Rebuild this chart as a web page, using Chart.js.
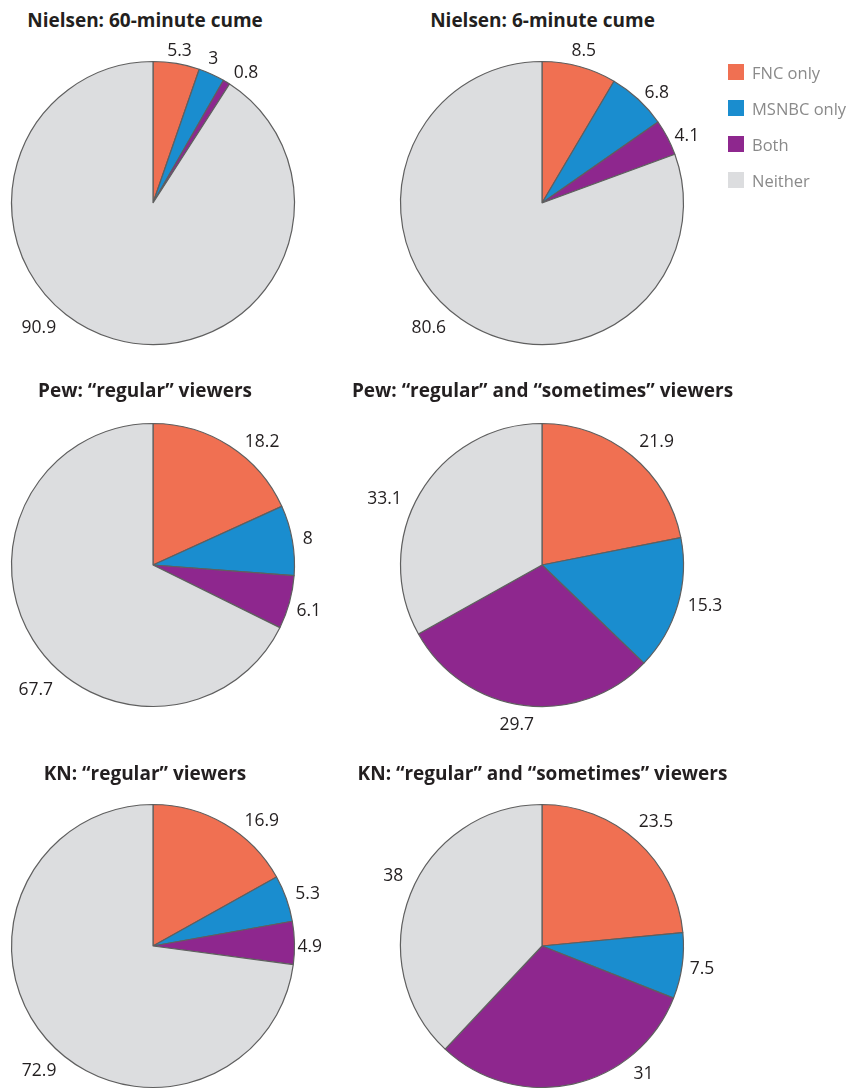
<!DOCTYPE html>
<html lang="en">
<head>
<meta charset="utf-8">
<title>Audiencias FNC / MSNBC</title>
<style>
  html, body { margin: 0; padding: 0; background: #fff; }
  #stage { position: relative; width: 849px; height: 1088px; overflow: hidden; font-family: 'Open Sans', 'Noto Sans', sans-serif; }
  .pie-box { position: absolute; }
  .pie-title { position: absolute; transform: translate(-50%, -50%); white-space: nowrap; font-weight: 700; font-size: 19px; color: #231f20; }
  .legend { position: absolute; left: 728px; top: 63px; }
  .legend-item { display: flex; align-items: center; height: 36px; margin-top: -9px; margin-bottom: 9px; font-size: 16.5px; color: #8a8a8a; }
  .legend-item span.sw { width: 16px; height: 16px; margin-right: 8px; flex: none; }
</style>
</head>
<body>
<div id="stage"></div>
<script src="https://cdn.jsdelivr.net/npm/chart.js@4.4.1/dist/chart.umd.min.js"></script>
<script>
const CATEGORIAS = ['FNC only', 'MSNBC only', 'Both', 'Neither'];
const COLORES = ['#f07052', '#1a8dcf', '#8e278e', '#dcdddf'];

const TITULOS = [
  'Nielsen: 60-minute cume',
  'Nielsen: 6-minute cume',
  'Pew: \u201cregular\u201d viewers',
  'Pew: \u201cregular\u201d and \u201csometimes\u201d viewers',
  'KN: \u201cregular\u201d viewers',
  'KN: \u201cregular\u201d and \u201csometimes\u201d viewers'
];

const NIELSEN_60 = [5.3, 3, 0.8, 90.9];
const NIELSEN_6 = [8.5, 6.8, 4.1, 80.6];
const PEW_REGULAR = [18.2, 8, 6.1, 67.7];
const PEW_REGULAR_SOMETIMES = [21.9, 15.3, 29.7, 33.1];
const KN_REGULAR = [16.9, 5.3, 4.9, 72.9];
const KN_REGULAR_SOMETIMES = [23.5, 7.5, 31, 38];

const SERIES = [NIELSEN_60, NIELSEN_6, PEW_REGULAR, PEW_REGULAR_SOMETIMES, KN_REGULAR, KN_REGULAR_SOMETIMES];

// layout: centros de columnas / filas, radio y posicion de titulos
const COL_X = [152.5, 541.8];
const ROW_Y = [202.5, 564.5, 946];
const RADIO = 141.5;
const MEDIA_CAJA = 192;
const TITULO_X = [145, 542.5];
const TITULO_Y = [20, 390, 773];

// ajuste manual de etiquetas: [grados, px] respecto al centro del sector
const AJUSTES_ETIQUETAS = [
  [[0, -3.6], [-1.7, -1], [3.3, 0], [24.2, 6.7]],
  [[-0.5, -0.6], [2.2, -1.6], [1.8, -3], [5.4, 6.2]],
  [[6.8, 2.5], [0.7, 0.3], [1.8, -0.9], [-16.9, 9]],
  [[1.6, 5.8], [-1.4, 0], [1, 4.5], [-6.3, 3.8]],
  [[8.8, 3.2], [0.3, 0], [1.7, -7], [-8.4, 7]],
  [[-1.7, 6.4], [0.4, -2], [-25.1, 4.3], [4.1, 3.6]]
];

const etiquetasPlugin = {
  id: 'etiquetas',
  afterDatasetsDraw(chart, args, opts) {
    const { ctx } = chart;
    const meta = chart.getDatasetMeta(0);
    const valores = chart.data.datasets[0].data;
    ctx.save();
    ctx.font = opts.font;
    ctx.fillStyle = opts.color;
    ctx.textAlign = 'center';
    ctx.textBaseline = 'middle';
    meta.data.forEach((arc, i) => {
      const { x, y, startAngle, endAngle, outerRadius } = arc.getProps(['x', 'y', 'startAngle', 'endAngle', 'outerRadius'], true);
      const [dAng, dR] = (opts.ajustes && opts.ajustes[i]) || [0, 0];
      const a = (startAngle + endAngle) / 2 + dAng * Math.PI / 180;
      const texto = String(valores[i]);
      const hw = ctx.measureText(texto).width / 2;
      const cos = Math.cos(a);
      const sin = Math.sin(a);
      const r = outerRadius + opts.gap + dR;
      ctx.fillText(texto, x + r * cos + hw * cos, y + r * sin + opts.halfHeight * sin);
    });
    ctx.restore();
  }
};

const stage = document.getElementById('stage');

function crearPie(indice) {
  const col = indice % 2;
  const row = Math.floor(indice / 2);

  const titulo = document.createElement('div');
  titulo.className = 'pie-title';
  titulo.textContent = TITULOS[indice];
  titulo.style.left = `${TITULO_X[col]}px`;
  titulo.style.top = `${TITULO_Y[row]}px`;
  stage.appendChild(titulo);

  const box = document.createElement('div');
  box.className = 'pie-box';
  box.style.left = `${COL_X[col] - MEDIA_CAJA}px`;
  box.style.top = `${ROW_Y[row] - MEDIA_CAJA}px`;
  box.style.width = `${MEDIA_CAJA * 2}px`;
  box.style.height = `${MEDIA_CAJA * 2}px`;
  const canvas = document.createElement('canvas');
  box.appendChild(canvas);
  stage.appendChild(box);

  return new Chart(canvas, {
    type: 'pie',
    data: {
      labels: CATEGORIAS,
      datasets: [{
        data: SERIES[indice],
        backgroundColor: COLORES,
        borderColor: '#5f5f5f',
        borderWidth: 1.2,
        hoverOffset: 0
      }]
    },
    options: {
      responsive: true,
      maintainAspectRatio: false,
      animation: false,
      radius: RADIO,
      layout: { padding: 0 },
      events: [],
      plugins: {
        legend: { display: false },
        tooltip: { enabled: false },
        etiquetas: {
          font: '17.5px "Open Sans", "Noto Sans", sans-serif',
          color: '#231f20',
          gap: 10,
          halfHeight: 6,
          ajustes: AJUSTES_ETIQUETAS[indice]
        }
      }
    },
    plugins: [etiquetasPlugin]
  });
}

function crearLeyenda() {
  const legend = document.createElement('div');
  legend.className = 'legend';
  legend.innerHTML = CATEGORIAS.map((cat, i) => `
    <div class="legend-item"><span class="sw" style="background:${COLORES[i]}"></span>${cat}</div>
  `).join('');
  stage.appendChild(legend);
}

SERIES.forEach((_, i) => crearPie(i));
crearLeyenda();
</script>
</body>
</html>
